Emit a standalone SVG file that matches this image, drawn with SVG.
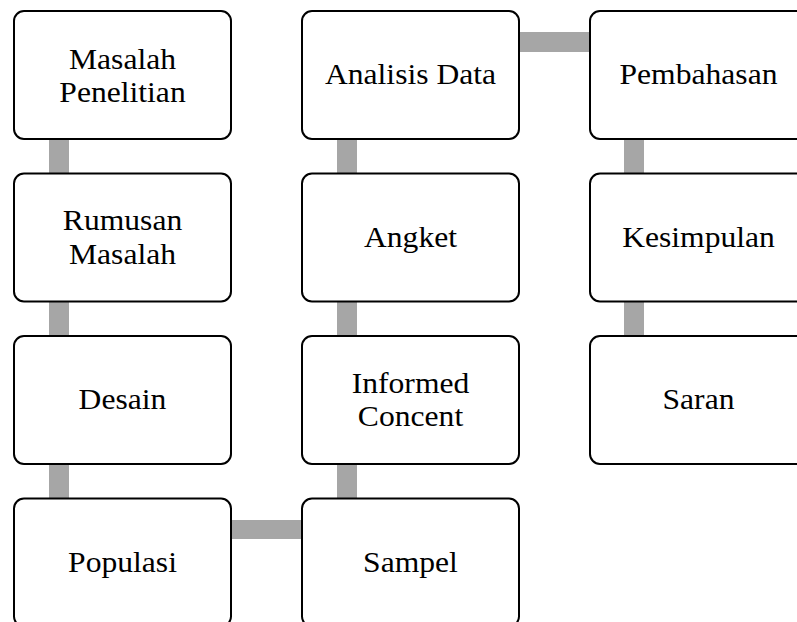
<svg xmlns="http://www.w3.org/2000/svg" width="797" height="622" viewBox="0 0 797 622">
<style>
.box{fill:#fff;stroke:#000;stroke-width:2}
.lbl{font-family:"Liberation Serif","Times New Roman",serif;font-size:29px;fill:#000;text-anchor:middle}
.con{fill:#a6a6a6}
</style>
<rect width="797" height="622" fill="#fff"/>
<g id="connectors">
<rect class="con" x="49" y="135" width="20" height="44"/>
<rect class="con" x="49" y="297" width="20" height="44"/>
<rect class="con" x="49" y="460" width="20" height="44"/>
<rect class="con" x="225" y="520" width="83" height="19"/>
<rect class="con" x="337" y="460" width="20" height="44"/>
<rect class="con" x="337" y="297" width="20" height="44"/>
<rect class="con" x="337" y="135" width="20" height="44"/>
<rect class="con" x="513" y="32" width="83" height="20"/>
<rect class="con" x="624" y="135" width="20" height="44"/>
<rect class="con" x="624" y="297" width="20" height="44"/>
</g>
<g id="n-masalah-penelitian">
<rect class="box" x="14" y="11" width="217" height="128" rx="10"/>
<text class="lbl" transform="translate(122.5,0) scale(1.09,1)"><tspan x="0" y="69">Masalah</tspan><tspan x="0" y="102.5">Penelitian</tspan></text>
</g>
<g id="n-rumusan-masalah">
<rect class="box" x="14" y="173.5" width="217" height="128" rx="10"/>
<text class="lbl" transform="translate(122.5,0) scale(1.09,1)"><tspan x="0" y="230.5">Rumusan</tspan><tspan x="0" y="264">Masalah</tspan></text>
</g>
<g id="n-desain">
<rect class="box" x="14" y="336" width="217" height="128" rx="10"/>
<text class="lbl" transform="translate(122.5,0) scale(1.09,1)" x="0" y="409.5">Desain</text>
</g>
<g id="n-populasi">
<rect class="box" x="14" y="498.5" width="217" height="128" rx="10"/>
<text class="lbl" transform="translate(122.5,0) scale(1.09,1)" x="0" y="572">Populasi</text>
</g>
<g id="n-sampel">
<rect class="box" x="302" y="498.5" width="217" height="128" rx="10"/>
<text class="lbl" transform="translate(410.5,0) scale(1.09,1)" x="0" y="572">Sampel</text>
</g>
<g id="n-informed-concent">
<rect class="box" x="302" y="336" width="217" height="128" rx="10"/>
<text class="lbl" transform="translate(410.5,0) scale(1.09,1)"><tspan x="0" y="393.5">Informed</tspan><tspan x="0" y="426.5">Concent</tspan></text>
</g>
<g id="n-angket">
<rect class="box" x="302" y="173.5" width="217" height="128" rx="10"/>
<text class="lbl" transform="translate(410.5,0) scale(1.09,1)" x="0" y="247">Angket</text>
</g>
<g id="n-analisis-data">
<rect class="box" x="302" y="11" width="217" height="128" rx="10"/>
<text class="lbl" transform="translate(410.5,0) scale(1.09,1)" x="0" y="84.5">Analisis Data</text>
</g>
<g id="n-pembahasan">
<rect class="box" x="590" y="11" width="217" height="128" rx="10"/>
<text class="lbl" transform="translate(698.5,0) scale(1.09,1)" x="0" y="84.5">Pembahasan</text>
</g>
<g id="n-kesimpulan">
<rect class="box" x="590" y="173.5" width="217" height="128" rx="10"/>
<text class="lbl" transform="translate(698.5,0) scale(1.09,1)" x="0" y="247">Kesimpulan</text>
</g>
<g id="n-saran">
<rect class="box" x="590" y="336" width="217" height="128" rx="10"/>
<text class="lbl" transform="translate(698.5,0) scale(1.09,1)" x="0" y="409.5">Saran</text>
</g>
</svg>
